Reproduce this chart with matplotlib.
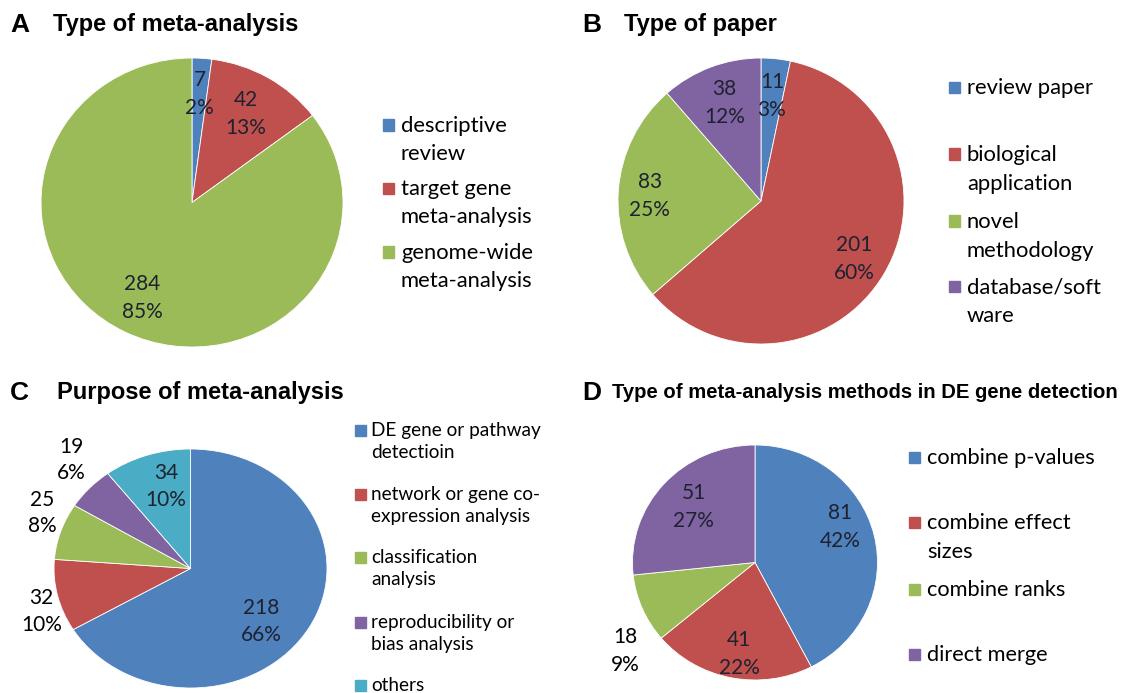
import numpy as np
import matplotlib
matplotlib.use('Agg')
import matplotlib.pyplot as plt
from matplotlib.patches import Rectangle

W, H = 1129, 693

blue, red, green, purple, aqua = '#4F81BD', '#C0504D', '#9BBB59', '#8064A2', '#4BACC6'

# panel A
a_labels = ['descriptive\nreview', 'target gene\nmeta-analysis', 'genome-wide\nmeta-analysis']
a_counts = [7, 42, 284]
a_pcts = ['2%', '13%', '85%']

# panel B
b_labels = ['review paper', 'biological\napplication', 'novel\nmethodology', 'database/soft\nware']
b_counts = [11, 201, 83, 38]
b_pcts = ['3%', '60%', '25%', '12%']

# panel C
c_labels = ['DE gene or pathway\ndetectioin', 'network or gene co-\nexpression analysis',
            'classification\nanalysis', 'reproducibility or\nbias analysis', 'others']
c_counts = [218, 32, 25, 19, 34]
c_pcts = ['66%', '10%', '8%', '6%', '10%']

# panel D
d_labels = ['combine p-values', 'combine effect\nsizes', 'combine ranks', 'direct merge']
d_counts = [81, 41, 18, 51]
d_pcts = ['42%', '22%', '9%', '27%']

LABEL_FONT = ['Lato', 'DejaVu Sans']
TITLE_FONT = ['Liberation Sans', 'DejaVu Sans']
INK = '#1e2230'

fig = plt.figure(figsize=(W / 100, H / 100), dpi=100)


def fx(x):
    return x / W


def fy(y):
    return 1 - y / H


def pie_panel(cx, cy, rx, ry, counts, pcts, colors, dist, shift, outside, ls=1.5):
    ax = fig.add_axes([fx(cx - rx), fy(cy + ry), 2 * rx / W, 2 * ry / H])
    wedges, _ = ax.pie(counts, colors=colors, startangle=90, counterclock=False,
                       wedgeprops=dict(edgecolor='white', linewidth=0.6))
    ax.set_xlim(-1, 1)
    ax.set_ylim(-1, 1)
    ax.set_aspect('auto')
    for i, w in enumerate(wedges):
        mid = 90 - (w.theta1 + w.theta2) / 2 + shift[i]
        t = np.deg2rad(mid)
        col = 'black' if outside[i] else INK
        ax.text(dist[i] * np.sin(t), dist[i] * np.cos(t),
                f'{counts[i]}\n{pcts[i]}', ha='center', va='center',
                fontsize=15, family=LABEL_FONT, color=col, linespacing=ls,
                clip_on=False)
    return ax


def legend_panel(x, tx, ys, labels, colors, size, box, gap):
    px = size * 100 / 72
    for y, lab, c in zip(ys, labels, colors):
        fig.patches.append(Rectangle((fx(x), fy(y + box / 2)), box / W, box / H,
                                     transform=fig.transFigure, color=c))
        for k, line in enumerate(lab.split('\n')):
            fig.text(fx(tx), fy(y + 0.33 * px + k * gap), line,
                     ha='left', va='baseline', fontsize=size,
                     family=LABEL_FONT, color='black')


def title(x_letter, x_title, y, letter, text, size=17):
    fig.text(fx(x_letter), fy(y), letter, fontsize=19, fontweight='bold',
             family=TITLE_FONT, va='center', ha='left')
    fig.text(fx(x_title), fy(y), text, fontsize=size, fontweight='bold',
             family=TITLE_FONT, va='center', ha='left')


# A
pie_panel(192, 202.5, 151, 144.5, a_counts, a_pcts, [blue, red, green],
          [0.75, 0.71, 0.74], [0, 0, 0], [False] * 3)
legend_panel(383, 401, [125, 188, 252], a_labels, [blue, red, green], 15.8, 11, 28)
title(10, 53, 25, 'A', 'Type of meta-analysis')

# B
pie_panel(761, 201, 143, 143, b_counts, b_pcts, [blue, red, green, purple],
          [0.74, 0.77, 0.78, 0.73], [0, 1.5, -1.5, 0], [False] * 4)
legend_panel(949, 967, [87, 154, 221, 286], b_labels, [blue, red, green, purple], 15.8, 11, 28.5)
title(582, 624, 25, 'B', 'Type of paper')

# C
pie_panel(190.5, 568.5, 136.5, 119.5, c_counts, c_pcts, [blue, red, green, purple, aqua],
          [0.68, 1.15, 1.18, 1.26, 0.71], [11, -5, 5, 4, 4],
          [False, True, True, True, False], ls=1.4)
legend_panel(355, 371, [430, 494, 557, 622, 685], c_labels,
             [blue, red, green, purple, aqua], 13.7, 11, 22)
title(10, 57, 393, 'C', 'Purpose of meta-analysis')

# D
pie_panel(755, 562.5, 122.5, 117.5, d_counts, d_pcts, [blue, red, green, purple],
          [0.76, 0.79, 1.3, 0.69], [-10, -2, -12.5, 1.5], [False, False, True, False])
legend_panel(909, 927, [457, 522, 589, 654], d_labels, [blue, red, green, purple], 15.7, 11, 29)
title(582, 612, 393, 'D', 'Type of meta-analysis methods in DE gene detection', size=14.6)

fig.savefig('out.png', dpi=100)
